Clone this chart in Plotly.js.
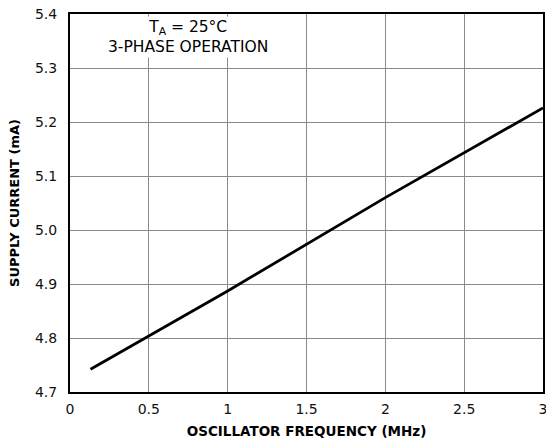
<!DOCTYPE html>
<html>
<head>
<meta charset="utf-8">
<script src="https://cdn.plot.ly/plotly-3.0.1.min.js"></script>
<style>html,body{margin:0;padding:0;background:#fff;}#chart{width:546px;height:442px;}</style>
</head>
<body>
<div id="chart"></div>
<script>
const freqMHz = [0.13, 1.0, 2.0, 3.0];
const supplyCurrent_mA = [4.742, 4.887, 5.060, 5.226];
const xTicks = [0, 0.5, 1, 1.5, 2, 2.5, 3];
const xTickLabels = ['0', '0.5', '1', '1.5', '2', '2.5', '3'];
const yTicks = [4.7, 4.8, 4.9, 5.0, 5.1, 5.2, 5.3, 5.4];
const yTickLabels = ['4.7', '4.8', '4.9', '5.0', '5.1', '5.2', '5.3', '5.4'];

const font = 'DejaVu Sans, Liberation Sans, Arial, sans-serif';
const trace = {
  x: freqMHz, y: supplyCurrent_mA, mode: 'lines', type: 'scatter',
  line: {color: '#000', width: 2.8}, hoverinfo: 'skip'
};
const layout = {
  width: 546, height: 442,
  margin: {l: 70, r: 3, t: 14, b: 50},
  paper_bgcolor: '#fff', plot_bgcolor: '#fff',
  showlegend: false,
  font: {family: font, color: '#111', size: 14},
  xaxis: {
    range: [0, 3], tickvals: xTicks, ticktext: xTickLabels,
    showgrid: true, gridcolor: '#8a8a8a', gridwidth: 1,
    showline: true, linecolor: '#000', linewidth: 2, mirror: true,
    ticks: '', zeroline: false, ticklabelstandoff: 3,
    ticklabeloverflow: 'allow',
    title: {text: '<b>OSCILLATOR FREQUENCY (MHz)</b>', font: {size: 13.5, family: font, color: '#000'}, standoff: 11}
  },
  yaxis: {
    range: [4.7, 5.4], tickvals: yTicks, ticktext: yTickLabels,
    showgrid: true, gridcolor: '#8a8a8a', gridwidth: 1,
    showline: true, linecolor: '#000', linewidth: 2, mirror: true,
    ticks: '', zeroline: false, ticklabelstandoff: 8,
    ticklabeloverflow: 'allow',
    title: {text: '<b>SUPPLY CURRENT (mA)</b>', font: {size: 13, family: font, color: '#000'}, standoff: 12}
  },
  annotations: [{
    x: 0.75, y: 5.357, xref: 'x', yref: 'y',
    text: 'T<sub>A</sub> = 25°C<br>3-PHASE OPERATION',
    showarrow: false, bgcolor: '#fff', borderpad: 1,
    font: {size: 15.5, family: font, color: '#000'}, align: 'center'
  }]
};
Plotly.newPlot('chart', [trace], layout, {staticPlot: true, displayModeBar: false});
</script>
</body>
</html>
